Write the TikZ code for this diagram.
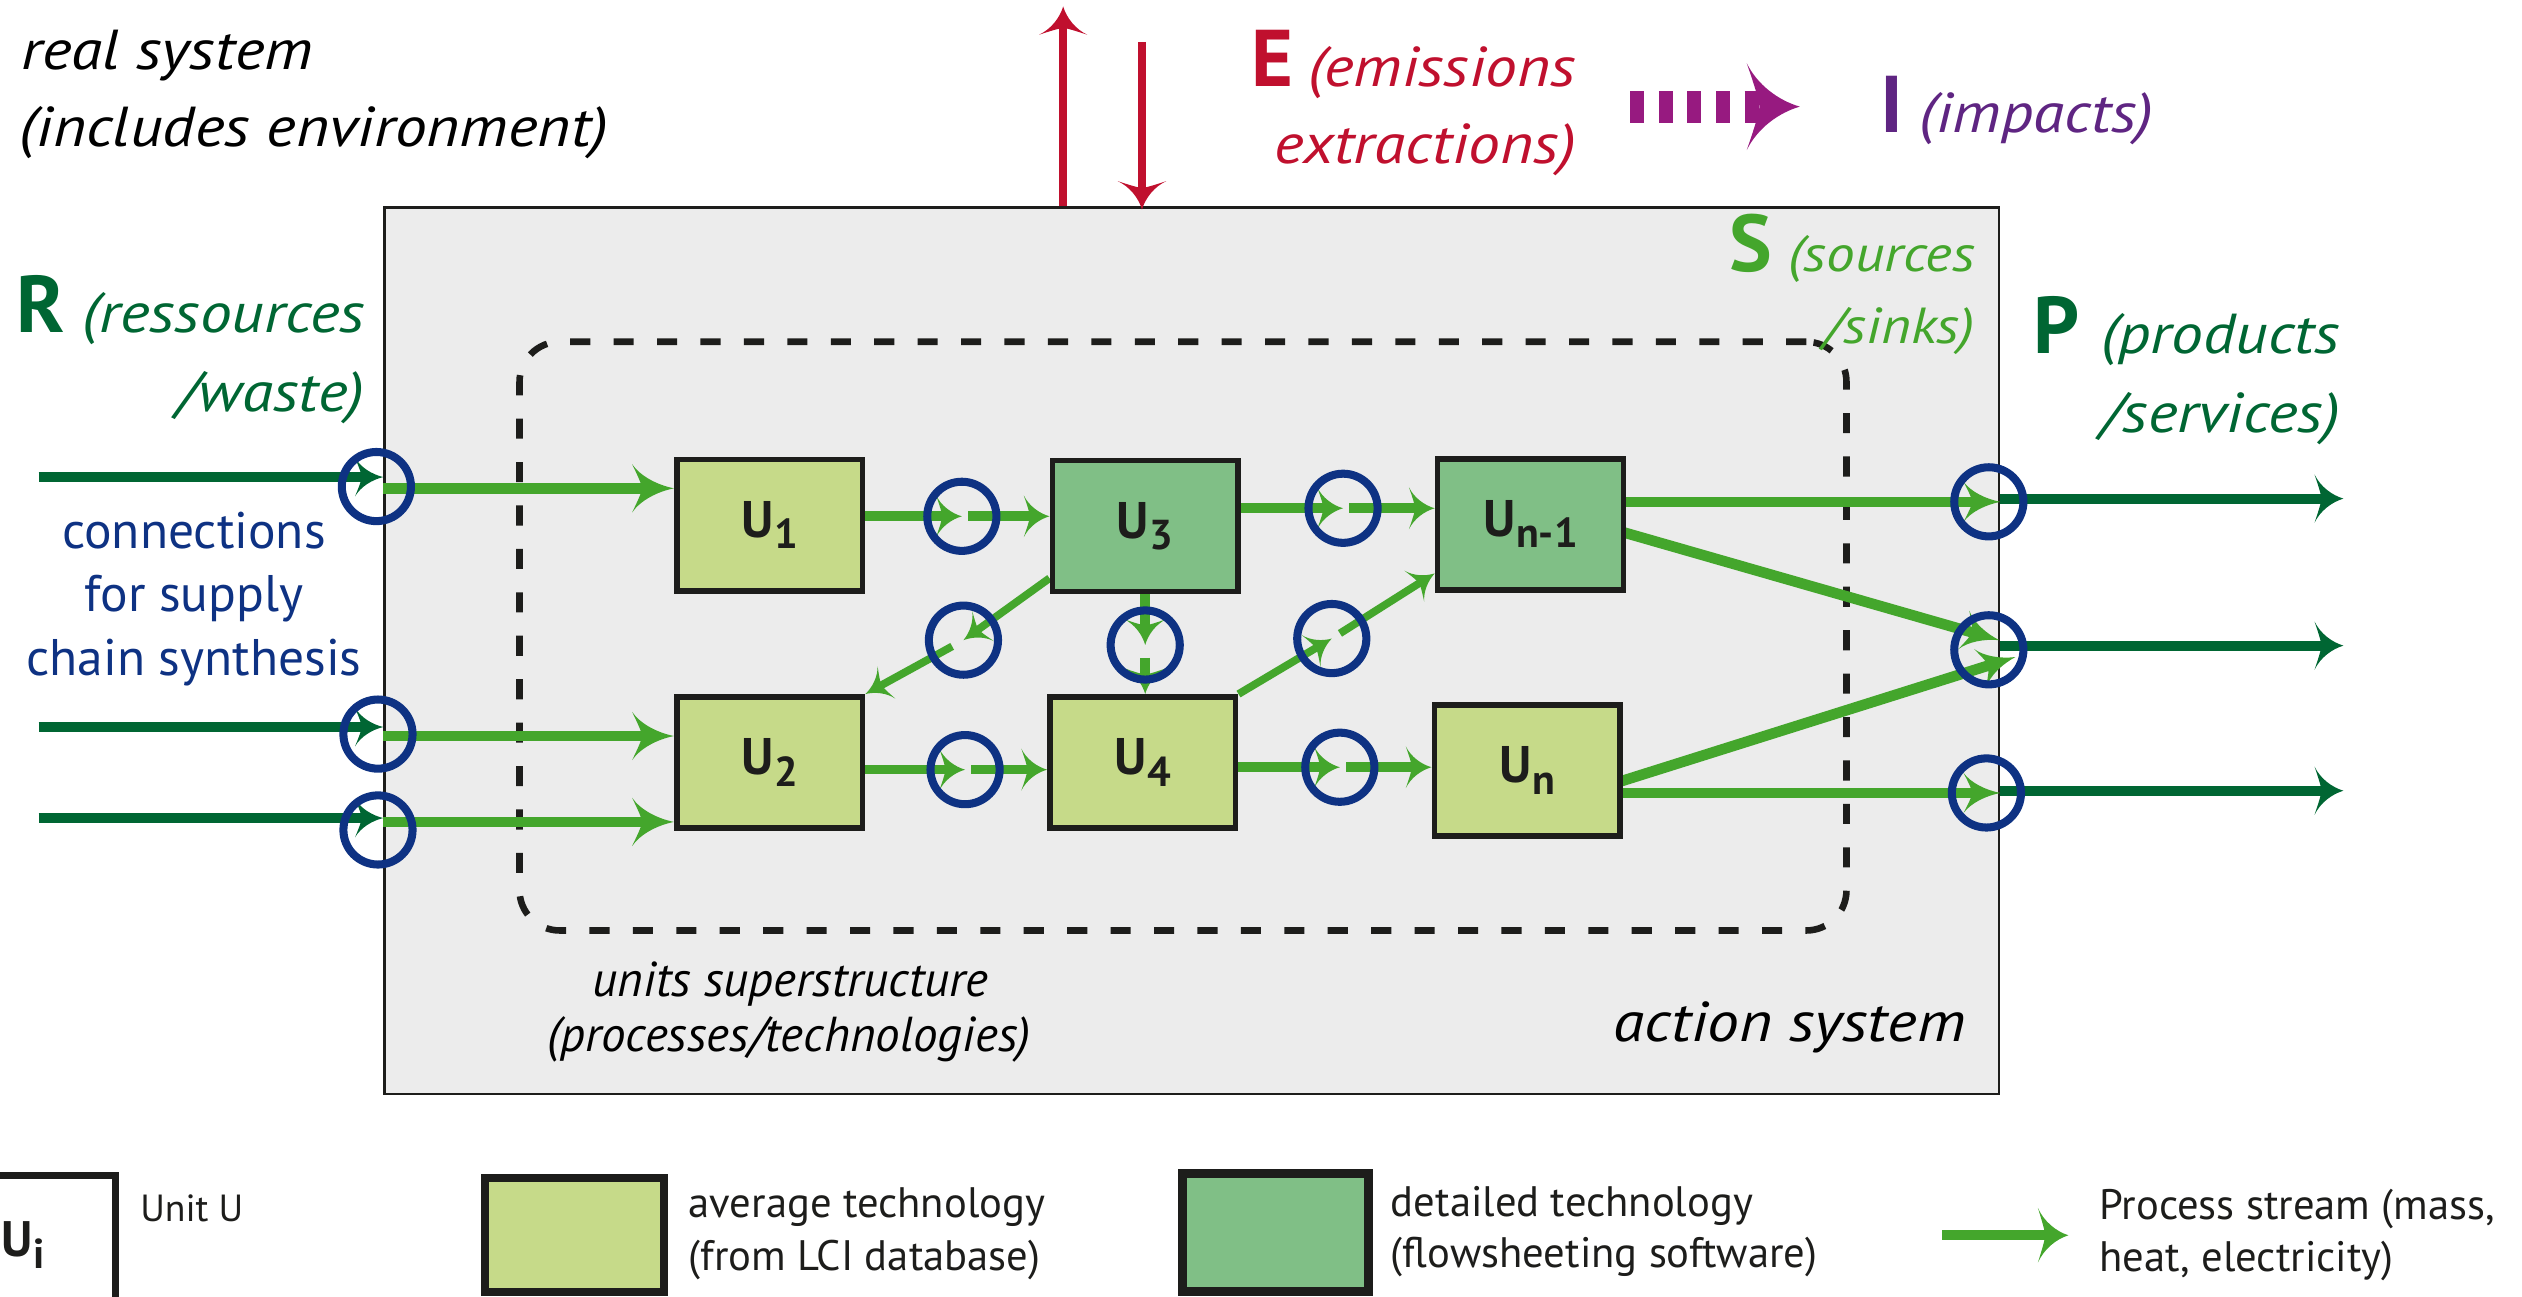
\documentclass[tikz,border=0pt]{standalone}
\usepackage{fontspec}
\setmainfont{PT Sans}
\newfontfamily\wideit{PT Sans}[FakeStretch=1.13]
\usetikzlibrary{arrows.meta,calc}

% swept arrow head with concave flanks
\pgfdeclarearrow{
  name = Swoop,
  parameters = {\the\pgfarrowlength,\the\pgfarrowwidth},
  setup code = {
    \pgfarrowssettipend{0pt}
    \pgfarrowssetlineend{-0.7\pgfarrowlength}
    \pgfarrowssetbackend{-\pgfarrowlength}
    \pgfarrowshullpoint{0pt}{0pt}
    \pgfarrowsupperhullpoint{-\pgfarrowlength}{0.5\pgfarrowwidth}
    \pgfarrowssavethe\pgfarrowlength
    \pgfarrowssavethe\pgfarrowwidth
  },
  drawing code = {
    \pgfpathmoveto{\pgfpoint{0pt}{0pt}}
    \pgfpathcurveto{\pgfpoint{-0.4\pgfarrowlength}{0.07\pgfarrowwidth}}{\pgfpoint{-0.8\pgfarrowlength}{0.25\pgfarrowwidth}}{\pgfpoint{-\pgfarrowlength}{0.5\pgfarrowwidth}}
    \pgfpathcurveto{\pgfpoint{-0.86\pgfarrowlength}{0.25\pgfarrowwidth}}{\pgfpoint{-0.78\pgfarrowlength}{0.1\pgfarrowwidth}}{\pgfpoint{-0.76\pgfarrowlength}{0pt}}
    \pgfpathcurveto{\pgfpoint{-0.78\pgfarrowlength}{-0.1\pgfarrowwidth}}{\pgfpoint{-0.86\pgfarrowlength}{-0.25\pgfarrowwidth}}{\pgfpoint{-\pgfarrowlength}{-0.5\pgfarrowwidth}}
    \pgfpathcurveto{\pgfpoint{-0.8\pgfarrowlength}{-0.25\pgfarrowwidth}}{\pgfpoint{-0.4\pgfarrowlength}{-0.07\pgfarrowwidth}}{\pgfpoint{0pt}{0pt}}
    \pgfpathclose
    \pgfusepathqfill
  },
  defaults = {length = 20pt, width = 24pt}
}

\definecolor{frame}{HTML}{1D1D1B}
\definecolor{panel}{HTML}{ECECEC}
\definecolor{avg}{HTML}{C6DA89}
\definecolor{det}{HTML}{80BF86}
\definecolor{strm}{HTML}{44A62C}
\definecolor{dgreen}{HTML}{006633}
\definecolor{navy}{HTML}{0E3283}
\definecolor{crim}{HTML}{C0102E}
\definecolor{purp}{HTML}{971A80}
\definecolor{viol}{HTML}{5F2582}

\newcommand{\usub}[1]{U\kern0.5pt\raisebox{-7pt}{\fontsize{26}{26}\selectfont #1}}

\pgfdeclarelayer{back}
\pgfdeclarelayer{flows}
\pgfsetlayers{back,flows,main}

\begin{document}
\begin{tikzpicture}[x=1pt,y=-1pt,
  unit/.style={draw=frame, line width=3.5pt, minimum width=115.5pt, minimum height=81.5pt,
    inner sep=0pt, font=\fontsize{32}{32}\selectfont\bfseries, text=frame},
  port/.style={circle, draw=navy, line width=5pt, minimum size=43pt, inner sep=0pt},
  flowbig/.style={draw=strm, line width=6.6pt, -{Swoop[length=26pt,width=30pt]}},
  flow/.style={draw=strm, line width=6pt, -{Swoop[length=16pt,width=26pt]}},
  flowthin/.style={draw=strm, line width=4.8pt, -{Swoop[length=15pt,width=23pt]}},
  pflow/.style={draw=strm, line width=6.6pt, -{Swoop[length=23pt,width=25pt]}},
  inflow/.style={draw=dgreen, line width=6.2pt, -{Swoop[length=17.5pt,width=24pt]}},
  outflow/.style={draw=dgreen, line width=6.2pt, -{Swoop[length=18pt,width=30pt]}},
  redflow/.style={draw=crim, line width=4.8pt, -{Swoop[length=17.6pt,width=30pt]}},
  impflow/.style={draw=purp, line width=20pt, dash pattern=on 8.7pt off 9.1pt, -{Swoop[length=33pt,width=54pt]}},
  legflow/.style={draw=strm, line width=6.2pt, -{Swoop[length=19pt,width=34pt]}},
  itlab/.style={font=\fontsize{35}{35}\selectfont\wideit\itshape, inner sep=0pt},
  smallit/.style={font=\fontsize{31.5}{31.5}\selectfont\wideit\itshape, inner sep=0pt},
  bigl/.style={font=\fontsize{50}{50}\selectfont\bfseries, inner sep=0pt},
  navytext/.style={font=\fontsize{32}{32}\selectfont, text=navy, inner sep=0pt},
  condit/.style={font=\fontsize{30.5}{30.5}\selectfont\itshape, inner sep=0pt},
  legtext/.style={font=\fontsize{26.5}{26.5}\selectfont, text=frame, inner sep=0pt},
  legbox/.style={draw=frame, line width=5pt, inner sep=0pt}
]
\useasboundingbox (0,0) rectangle (1568,806);

% action system and units superstructure
\begin{pgfonlayer}{back}
  \node[draw=frame, fill=panel, line width=1.5pt, minimum width=1004pt, minimum height=551pt,
    inner sep=0pt] (act) at (741,404.5) {};
  \node[draw=frame, line width=4.1pt, dash pattern=on 12.5pt off 14.5pt, rounded corners=25pt,
    minimum width=825pt, minimum height=366pt, inner sep=0pt] (sup) at (735.5,395.5) {};
\end{pgfonlayer}

% units
\node[unit, fill=avg] (u1) at (478.5,326.5) {\usub{1}};
\node[unit, fill=det] (u3) at (712,327) {\usub{3}};
\node[unit, fill=det] (un1) at (951.5,326) {\usub{n-1}};
\node[unit, fill=avg] (u2) at (478.5,474) {\usub{2}};
\node[unit, fill=avg] (u4) at (710.5,474) {\usub{4}};
\node[unit, fill=avg] (un) at (949.5,479) {\usub{n}};

% connection points
\node[port] (l1) at (234,302.5) {};
\node[port] (l2) at (235,456.4) {};
\node[port] (l3) at (235,516) {};
\node[port] (c13) at (598,321) {};
\node[port] (c3n) at (835,316) {};
\node[port] (c24) at (600,478.5) {};
\node[port] (c4n) at (833,477) {};
\node[port] (c34) at (712,401) {};
\node[port] (c32) at (599,398) {};
\node[port] (c4n1) at (828,397) {};
\node[port] (p1) at (1236.5,312) {};
\node[port] (p2) at (1236.5,404) {};
\node[port] (p3) at (1235,493) {};

% free ends of the streams
\coordinate (r1) at (24,296.6);
\coordinate (r2) at (24,452);
\coordinate (r3) at (24,508.6);
\coordinate (o1) at (1457,310);
\coordinate (o2) at (1457,401.4);
\coordinate (o3) at (1457,491.6);
\coordinate (p2a) at (1243,398);
\coordinate (p2b) at (1253,408.5);
\coordinate (e1) at (661,4);
\coordinate (e2) at (710,26);
\coordinate (ia) at (1013.5,66.3);
\coordinate (ib) at (1119,66.3);
\coordinate (la) at (1207.4,768);
\coordinate (lb) at (1286,768);

\begin{pgfonlayer}{flows}
  % resources entering the action system
  \draw[inflow] (r1) -- (r1 -| act.west);
  \draw[inflow] (r2) -- (r2 -| act.west);
  \draw[inflow] (r3) -- (r3 -| act.west);
  \draw[flowbig] (act.west |- 0,303.6) -- ([yshift=22.9pt]u1.west);
  \draw[flowbig] (act.west |- 0,457.6) -- ([yshift=16.4pt]u2.west);
  \draw[flowbig] (act.west |- 0,511) -- ([yshift=-37pt]u2.west);
  % streams between units
  \draw[flow] (u1.east |- c13) -- (c13.center);
  \draw[flow, shorten <=4pt] (c13.center) -- (c13 -| u3.west);
  \draw[flow] (u3.east |- c3n) -- (c3n.center);
  \draw[flow, shorten <=4pt] (c3n.center) -- (c3n -| un1.west);
  \draw[flow] (u2.east |- c24) -- (c24.center);
  \draw[flow, shorten <=4pt] (c24.center) -- (c24 -| u4.west);
  \draw[flow] (u4.east |- c4n) -- (c4n.center);
  \draw[flow, shorten <=4pt] (c4n.center) -- (c4n -| un.west);
  \draw[flow] ([yshift=3pt]u3.south -| c34) -- (c34.center);
  \draw[flow, shorten <=8pt] (c34.center) -- (c34 |- u4.north);
  \draw[flowthin] ([yshift=10pt]u3.south west) -- (c32.center);
  \draw[flowthin, shorten <=8pt] (c32.center) -- (u2.north east);
  \draw[flowthin] (u4.north east) -- (c4n1.center);
  \draw[flowthin, shorten <=6pt] (c4n1.center) -- ([yshift=12pt]un1.south west);
  % products leaving
  \draw[pflow] (un1.east |- p1) -- (p1 -| act.east);
  \draw[pflow] ([xshift=-5pt,yshift=-4pt]un1.east) -- (p2a);
  \draw[pflow] ([xshift=-2pt,yshift=-7pt]un.east) -- (p2b);
  \draw[pflow] (un.east |- p3) -- (p3 -| act.east);
  \draw[outflow] (act.east |- o1) -- (o1);
  \draw[outflow] (act.east |- o2) -- (o2);
  \draw[outflow] (act.east |- o3) -- (o3);
  % emissions / extractions and impacts
  \draw[redflow] (act.north -| e1) -- (e1);
  \draw[redflow, shorten >=-2pt] (e2) -- (e2 |- act.north);
  \draw[impflow] (ia) -- (ib);
\end{pgfonlayer}

% labels
\node[itlab, anchor=base west] (rs1) at (13,43.5) {real system};
\node[itlab, anchor=base west] (rs2) at (12,91) {(includes environment)};
\node[bigl, text=dgreen, anchor=base west] (Rl) at (10,207) {R};
\node[itlab, text=dgreen, anchor=base east] (Rt1) at (227,207) {(ressources};
\node[itlab, text=dgreen, anchor=base east] (Rt2) at (227,256) {/waste)};
\node[bigl, text=crim, anchor=base west] (El) at (778,53.5) {E};
\node[itlab, text=crim, anchor=base east] (Et1) at (980,53.5) {(emissions};
\node[itlab, text=crim, anchor=base east] (Et2) at (980,101.5) {extractions)};
\node[bigl, text=viol, anchor=base west] (Il) at (1169,82.5) {I};
\node[itlab, text=viol, anchor=base west] (It) at (1193,82.5) {(impacts)};
\node[bigl, text=strm, anchor=base west] (Sl) at (1075,169) {S};
\node[smallit, text=strm, anchor=base east] (St1) at (1228,169) {(sources};
\node[smallit, text=strm, anchor=base east] (St2) at (1228,213.4) {/sinks)};
\node[bigl, text=dgreen, anchor=base west] (Pl) at (1264,220) {P};
\node[itlab, text=dgreen, anchor=base east] (Pt1) at (1455,220) {(products};
\node[itlab, text=dgreen, anchor=base east] (Pt2) at (1455,268.6) {/services)};
\node[navytext, anchor=base] (cn1) at (120.6,340.8) {connections};
\node[navytext, anchor=base] (cn2) at (120.6,380) {for supply};
\node[navytext, anchor=base] (cn3) at (120.6,419.7) {chain synthesis};
\node[condit, anchor=base] (us1) at (491.5,619.7) {units superstructure};
\node[condit, anchor=base] (us2) at (490.5,654) {(processes/technologies)};
\node[itlab, anchor=base east] (asys) at (1222.4,647.6) {action system};

% legend
\node[legbox, fill=white, line width=4.5pt, minimum width=117.7pt, minimum height=80.3pt] (lgu) at (12.85,770.85) {};
\node[font=\fontsize{31}{31}\selectfont\bfseries, text=frame, inner sep=0pt, anchor=base west] (lgul) at (0.5,781.5) {\usub{i}};
\node[legtext, font=\fontsize{23.5}{23.5}\selectfont, anchor=base west] (lgut) at (87,759.6) {Unit U};
\node[legbox, fill=avg, minimum width=111.5pt, minimum height=70.5pt] (lga) at (357.25,767.75) {};
\node[legtext, anchor=base west] (lgat1) at (428,757) {average technology};
\node[legtext, anchor=base west] (lgat2) at (428,790) {(from LCI database)};
\node[legbox, fill=det, line width=5.4pt, minimum width=116pt, minimum height=73.5pt] (lgd) at (793,766.25) {};
\node[legtext, anchor=base west] (lgdt1) at (864.6,756.5) {detailed technology};
\node[legtext, anchor=base west] (lgdt2) at (864.6,788) {(flowsheeting software)};
\draw[legflow] (la) -- (lb);
\node[legtext, anchor=base west] (lgst1) at (1305,758) {Process stream (mass,};
\node[legtext, anchor=base west] (lgst2) at (1305,790.6) {heat, electricity)};
\end{tikzpicture}
\end{document}
